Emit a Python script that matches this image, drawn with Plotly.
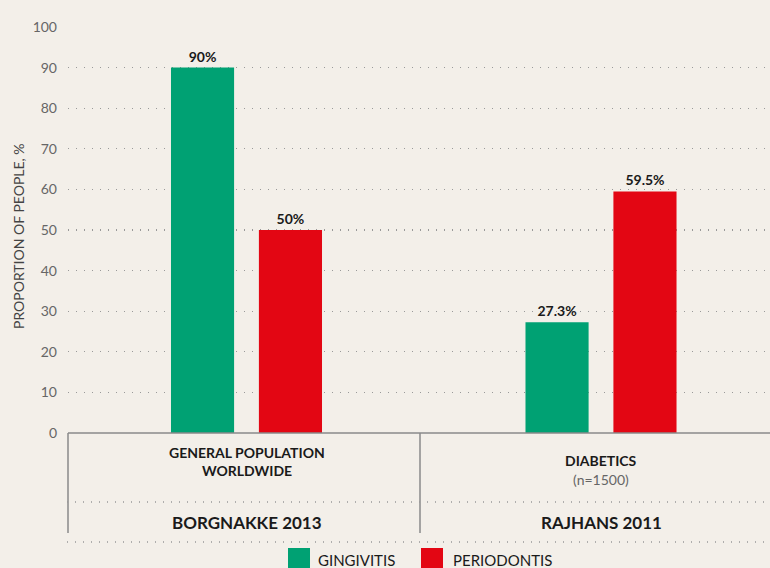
import plotly.graph_objects as go

groups = ["BORGNAKKE 2013", "RAJHANS 2011"]
group_desc = [["GENERAL POPULATION", "WORLDWIDE"], ["DIABETICS"]]
group_note = [None, "(n=1500)"]
series_names = ["GINGIVITIS", "PERIODONTIS"]
gingivitis = [90, 27.3]
periodontis = [50, 59.5]
y_ticks = [0, 10, 20, 30, 40, 50, 60, 70, 80, 90, 100]

colors = ["#00A173", "#E30613"]
bg = "#F3EFE9"
font_family = "Lato, 'Open Sans', sans-serif"

W, H = 770, 568
L, R, T, B = 68, 0, 27, 135
ph = H - T - B

def py(ypx):
    return (H - B - ypx) / ph

def px(xpx):
    return (xpx - L) / (W - L - R)

fig = go.Figure()
offsets = [-0.213, 0.035]
for name, vals, col, off in zip(series_names, [gingivitis, periodontis], colors, offsets):
    fig.add_trace(go.Bar(
        x=groups, y=vals, name=name, marker_color=col, marker_line_width=0,
        width=0.178, offset=off,
        text=[f"{v:g}%" for v in vals], textposition="outside",
        textfont=dict(family=font_family, size=14, color="#1a1a1a", weight="bold"),
        cliponaxis=False, showlegend=False, hoverinfo="skip",
    ))

shapes = []
line_col = "#8a8a8a"
shapes.append(dict(type="line", xref="paper", yref="paper", x0=0, x1=1, y0=0, y1=0,
                   line=dict(color=line_col, width=1.5)))
for xp in [0, px(420)]:
    shapes.append(dict(type="line", xref="paper", yref="paper", x0=xp, x1=xp, y0=0, y1=py(533),
                       line=dict(color=line_col, width=1.5)))
for ypx in [502, 542]:
    shapes.append(dict(type="line", xref="paper", yref="paper", x0=px(67), x1=1, y0=py(ypx), y1=py(ypx),
                       line=dict(color="#999999", width=1.3, dash="1px,7px")))

annotations = []
for g, desc, note in zip(groups, group_desc, group_note):
    ys = [452, 470] if len(desc) == 2 else [461]
    for line, ypx in zip(desc, ys):
        annotations.append(dict(x=g, xref="x", y=py(ypx), yref="paper", text=line, showarrow=False,
                                xanchor="center", yanchor="middle",
                                font=dict(family=font_family, size=14, color="#1a1a1a", weight="bold")))
    if note:
        annotations.append(dict(x=g, xref="x", y=py(479), yref="paper", text=note, showarrow=False,
                                xanchor="center", yanchor="middle",
                                font=dict(family=font_family, size=14, color="#666666")))
    annotations.append(dict(x=g, xref="x", y=py(522), yref="paper", text=g, showarrow=False,
                            xanchor="center", yanchor="middle",
                            font=dict(family=font_family, size=17, color="#1a1a1a", weight="bold")))

annotations.append(dict(x=px(18), xref="paper", y=py(236), yref="paper", text="PROPORTION OF PEOPLE, %",
                        showarrow=False, textangle=-90, xanchor="center", yanchor="middle",
                        font=dict(family=font_family, size=14, color="#444444")))

leg_sq = [(288, 310), (421, 443)]
leg_tx = [316, 451]
for name, col, (x0, x1), xt in zip(series_names, colors, leg_sq, leg_tx):
    shapes.append(dict(type="rect", xref="paper", yref="paper",
                       x0=px(x0), x1=px(x1), y0=py(570), y1=py(548),
                       fillcolor=col, line_width=0))
    annotations.append(dict(x=px(xt), xref="paper", y=py(560), yref="paper", text=name,
                            showarrow=False, xanchor="left", yanchor="middle",
                            font=dict(family=font_family, size=15, color="#1a1a1a")))

fig.update_layout(
    width=W, height=H,
    margin=dict(l=L, r=R, t=T, b=B, pad=0),
    paper_bgcolor=bg, plot_bgcolor=bg,
    shapes=shapes, annotations=annotations,
    font=dict(family=font_family),
    hovermode=False,
    xaxis=dict(range=[-0.5035, 1.4767], showticklabels=False, showgrid=False, zeroline=False,
               showline=False, ticks="", fixedrange=True),
    yaxis=dict(range=[0, 100], tickvals=y_ticks, showgrid=True, gridcolor="#999999", gridwidth=1.3,
               griddash="1px,7px", zeroline=False, showline=False, ticks="",
               ticklabelstandoff=10, fixedrange=True,
               tickfont=dict(family=font_family, size=14, color="#666666")),
)

fig.write_html("out.html", config={"displayModeBar": False, "staticPlot": True},
               post_script="document.body.style.margin='0';document.body.style.padding='0';document.body.style.overflow='hidden';")
